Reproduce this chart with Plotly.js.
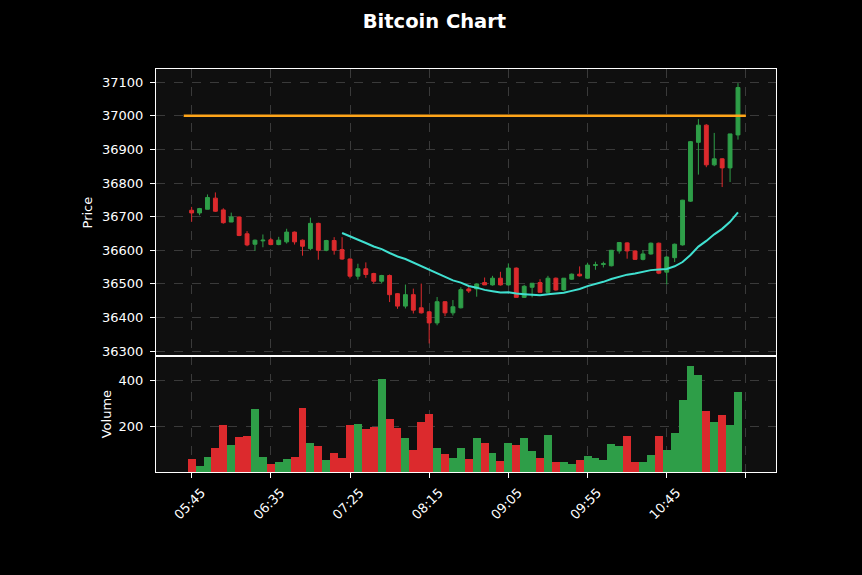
<!DOCTYPE html>
<html><head><meta charset="utf-8">
<script src="https://cdn.plot.ly/plotly-3.0.1.min.js"></script>
<style>html,body{margin:0;padding:0;background:#000;}</style>
</head><body><div id="chart" style="width:862px;height:575px;"></div>
<script>
// ---- data (5-minute candles starting 05:45) ----
const openP  = [36719,36711,36722,36755,36720,36684,36699,36649,36618,36628,
                36631,36617,36625,36654,36630,36605,36680,36600,36629,36602,
                36574,36523,36545,36531,36508,36525,36471,36434,36468,36429,
                36417,36384,36447,36414,36429,36485,36485,36504,36497,36517,
                36497,36547,36460,36490,36504,36475,36517,36482,36514,36529,
                36517,36555,36558,36554,36598,36622,36598,36573,36589,36621,
                36535,36578,36616,36746,36921,36972,36854,36872,36845,36943];
const highP  = [36729,36726,36766,36772,36725,36712,36700,36657,36632,36647,
                36637,36640,36664,36656,36632,36697,36682,36631,36639,36639,
                36576,36560,36564,36533,36527,36528,36473,36498,36486,36501,
                36419,36461,36449,36452,36490,36493,36502,36519,36524,36536,
                36561,36549,36497,36502,36514,36524,36519,36517,36531,36552,
                36563,36566,36566,36601,36624,36624,36600,36600,36623,36623,
                36582,36620,36750,36925,36990,36975,36949,36874,36946,37097];
const lowP   = [36685,36704,36722,36714,36679,36684,36642,36612,36598,36609,
                36615,36615,36620,36617,36584,36600,36572,36597,36587,36572,
                36516,36513,36518,36501,36501,36446,36426,36427,36412,36412,
                36323,36377,36404,36406,36427,36473,36462,36497,36495,36495,
                36495,36460,36458,36460,36475,36473,36480,36480,36512,36522,
                36515,36542,36549,36552,36590,36575,36571,36570,36587,36529,
                36498,36565,36614,36744,36825,36847,36850,36788,36803,36929];
const closeP = [36711,36724,36757,36716,36682,36699,36644,36616,36630,36630,
                36617,36630,36654,36625,36612,36680,36600,36629,36600,36574,
                36523,36545,36528,36508,36525,36468,36434,36468,36422,36414,
                36384,36447,36414,36432,36483,36479,36500,36497,36517,36497,
                36547,36460,36493,36502,36475,36517,36482,36517,36529,36524,
                36556,36557,36560,36600,36623,36598,36573,36589,36621,36532,
                36580,36618,36749,36923,36972,36854,36872,36845,36946,37084];
const volume = [63,32,70,110,209,122,157,162,278,70,
                41,49,62,72,283,132,119,59,89,67,
                206,214,193,200,407,235,197,154,102,223,
                257,110,85,67,110,63,154,132,89,54,
                132,124,154,98,67,167,50,50,41,59,
                76,67,59,128,119,162,50,50,80,162,
                102,175,314,460,422,270,219,253,210,348];
const tickIndex  = [0,10,20,30,40,50,60,70];
const tickLabels = ['05:45','06:35','07:25','08:15','09:05','09:55','10:45',''];
const maPeriod = 20;
const levelPrice = 37000;
const levelSpan = [-1, 70];

// ---- derived ----
const UP = '#2e9e48', DOWN = '#dc2a2d';
const idx = openP.map((_, i) => i);
const ma = closeP.map((_, i) => {
  if (i < maPeriod - 1) return null;
  let s = 0; for (let k = i - maPeriod + 1; k <= i; k++) s += closeP[k];
  return s / maPeriod;
});
const volColors = closeP.map((c, i) => c >= openP[i] ? UP : DOWN);

const traces = [
  {type:'candlestick', x:idx, open:openP, high:highP, low:lowP, close:closeP,
   xaxis:'x2', yaxis:'y2', hoverinfo:'skip',
   increasing:{line:{color:UP,width:1}, fillcolor:UP},
   decreasing:{line:{color:DOWN,width:1}, fillcolor:DOWN}},
  {type:'scatter', mode:'lines', x:idx, y:ma, xaxis:'x2', yaxis:'y2',
   line:{color:'#40e0d0', width:2}, hoverinfo:'skip', connectgaps:false},
  {type:'scatter', mode:'lines', x:levelSpan, y:levelSpan.map(() => levelPrice),
   xaxis:'x2', yaxis:'y2', line:{color:'#ffa51a', width:2.5}, hoverinfo:'skip'},
  {type:'bar', x:idx, y:volume, xaxis:'x', yaxis:'y', width:1,
   marker:{color:volColors, line:{width:0}}, hoverinfo:'skip'}
];

const gridStyle = {showgrid:true, gridcolor:'#3a3a3a', griddash:'dash', gridwidth:1,
  zeroline:false, showline:true, mirror:true, linecolor:'#ffffff', linewidth:1};

const layout = {
  width:862, height:575,
  paper_bgcolor:'#000000', plot_bgcolor:'#0f0f0f',
  margin:{l:156, r:86, t:69, b:103},
  showlegend:false, bargap:0,
  font:{family:'DejaVu Sans', color:'#ffffff', size:13},
  title:{text:'<b>Bitcoin Chart</b>', font:{size:19.5, color:'#ffffff', family:'DejaVu Sans'},
         xref:'container', x:0.504, xanchor:'center', yref:'container', y:0.963, yanchor:'middle'},
  xaxis:Object.assign({}, gridStyle, {domain:[0,1], anchor:'y', range:[-4.5,73.8],
         tickmode:'array', tickvals:tickIndex, ticktext:tickLabels, tickangle:-45,
         ticklabelshift:10, ticklabelstandoff:2,
         ticks:'outside', ticklen:5, tickcolor:'#ffffff', tickfont:{size:13},
         rangeslider:{visible:false}}),
  xaxis2:Object.assign({}, gridStyle, {matches:'x', anchor:'y2', range:[-4.5,73.8],
         tickmode:'array', tickvals:tickIndex, ticktext:tickLabels,
         showticklabels:false, ticks:'', rangeslider:{visible:false}}),
  yaxis:Object.assign({}, gridStyle, {domain:[0,0.2873], range:[6,504], tick0:0, dtick:200,
         tickformat:'d', ticks:'outside', ticklen:5, tickcolor:'#ffffff', ticklabelstandoff:4,
         title:{text:'Volume', font:{size:13}, standoff:4}}),
  yaxis2:Object.assign({}, gridStyle, {domain:[0.2873,1], range:[36285,37139], tick0:0, dtick:100,
         tickformat:'d', ticks:'outside', ticklen:5, tickcolor:'#ffffff', ticklabelstandoff:4,
         title:{text:'Price', font:{size:13}, standoff:6}})
};

Plotly.newPlot('chart', traces, layout, {displayModeBar:false, staticPlot:true});
</script></body></html>
